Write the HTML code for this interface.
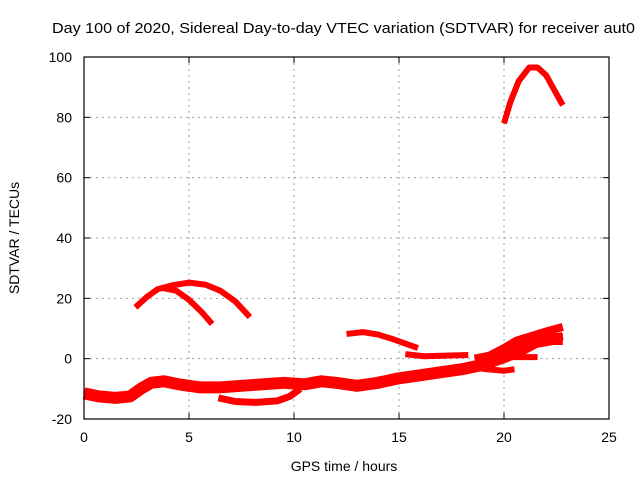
<!DOCTYPE html>
<html><head><meta charset="utf-8"><style>
body{margin:0;background:#fff}
svg{font-family:"Liberation Sans",sans-serif;font-size:14px}
</style></head><body>
<svg width="640" height="480">
<rect width="640" height="480" fill="#fff"/>
<text x="52" y="33" textLength="583" lengthAdjust="spacingAndGlyphs" font-size="15">Day 100 of 2020, Sidereal Day-to-day VTEC variation (SDTVAR) for receiver aut0</text>
<g id="grid"></g>
<g id="series"></g>
<rect x="84" y="57" width="525" height="362" fill="none" stroke="#000" stroke-width="1.2"/>
<g id="ticks"></g>
<text x="344" y="471" text-anchor="middle">GPS time / hours</text>
<text transform="translate(19,238) rotate(-90)" text-anchor="middle">SDTVAR / TECUs</text>
</svg>
<script>
const xTicks=[0,5,10,15,20,25];
const yTicks=[-20,0,20,40,60,80,100];
const arcA=[[2.45,17],[3,20.5],[3.5,23],[4.2,24.3],[5,25.2],[5.8,24.5],[6.5,22.5],[7.2,19],[7.9,13.8]];
const arcB=[[3.7,23.5],[4.4,22.5],[5,19.5],[5.6,15.5],[6.1,11.5]];
const lowBand=[[0,-11.5],[0.7,-12.5],[1.5,-13],[2.2,-12.5],[2.7,-10],[3.2,-8],[3.8,-7.5],[4.5,-8.5],[5.5,-9.5],[6.5,-9.5],[7.5,-9],[8.5,-8.5],[9.5,-8],[10.5,-8.5],[11.3,-7.5],[12,-8],[13,-9],[14,-8],[15,-6.5],[16,-5.5],[17,-4.5],[18,-3.5],[19,-2],[20,0.5],[20.7,2.5],[21.5,5.5],[22.3,6.5],[22.8,6.5]];
const lowLoop=[[6.4,-13],[7.2,-14.2],[8.2,-14.5],[9.2,-14],[9.8,-12.5],[10.3,-10]];
const midArc=[[12.5,8.2],[13.3,8.8],[14,8],[14.7,6.5],[15.5,4.5],[15.9,3.5]];
const flatSeg=[[15.3,1.5],[16.2,0.8],[17.2,1],[18.3,1.2]];
const riseHigh=[[18.6,0],[19.3,1],[20,3.5],[20.6,6],[21.3,7.5],[22,9],[22.8,10.5]];
const riseLow=[[19.5,-1],[20.2,2],[21,4.5],[21.8,6],[22.8,7.5]];
const tailSeg=[[18.4,-2.8],[19.2,-3.5],[20,-4],[20.5,-3.5]];
const flat2=[[19.8,0.5],[20.7,0.5],[21.6,0.5]];
const topArc=[[20,78],[20.3,85],[20.7,92],[21.2,96.5],[21.6,96.5],[22,94],[22.4,89],[22.8,84]];
const bands=[[arcA,6],[arcB,6],[lowBand,12],[lowLoop,7],[midArc,6],[flatSeg,6],[riseHigh,8],[riseLow,8],[tailSeg,6],[flat2,6],[topArc,6]];
const X=h=>84+21*h, Y=v=>57+(100-v)*362/120;
const NS='http://www.w3.org/2000/svg';
const grid=document.getElementById('grid'),ticks=document.getElementById('ticks'),ser=document.getElementById('series');
function mk(tag,attrs,parent){const e=document.createElementNS(NS,tag);for(const k in attrs)e.setAttribute(k,attrs[k]);parent.appendChild(e);return e;}
xTicks.forEach(t=>{const x=X(t);
 if(t>0&&t<25){const l=mk('line',{x1:x,x2:x,y1:57,y2:419,stroke:'#a0a0a0','stroke-dasharray':'2,4'},grid);}
 mk('line',{x1:x,x2:x,y1:419,y2:413,stroke:'#000'},ticks);mk('line',{x1:x,x2:x,y1:57,y2:63,stroke:'#000'},ticks);
 const tx=mk('text',{x:x,y:442,'text-anchor':'middle'},ticks);tx.textContent=t;});
yTicks.forEach(t=>{const y=Y(t);
 if(t>-20&&t<100){const l=mk('line',{x1:84,x2:609,y1:y,y2:y,stroke:'#a0a0a0','stroke-dasharray':'2,4'},grid);}
 mk('line',{x1:84,x2:90,y1:y,y2:y,stroke:'#000'},ticks);mk('line',{x1:603,x2:609,y1:y,y2:y,stroke:'#000'},ticks);
 const tx=mk('text',{x:72,y:y+5,'text-anchor':'end'},ticks);tx.textContent=t;});
bands.forEach(([pts,w])=>{const p=mk('polyline',{points:pts.map(d=>X(d[0])+','+Y(d[1])).join(' '),fill:'none',stroke:'#ff0000','stroke-width':w,'stroke-linejoin':'round','stroke-linecap':'butt'},ser);
 
 });
</script>
</body></html>
